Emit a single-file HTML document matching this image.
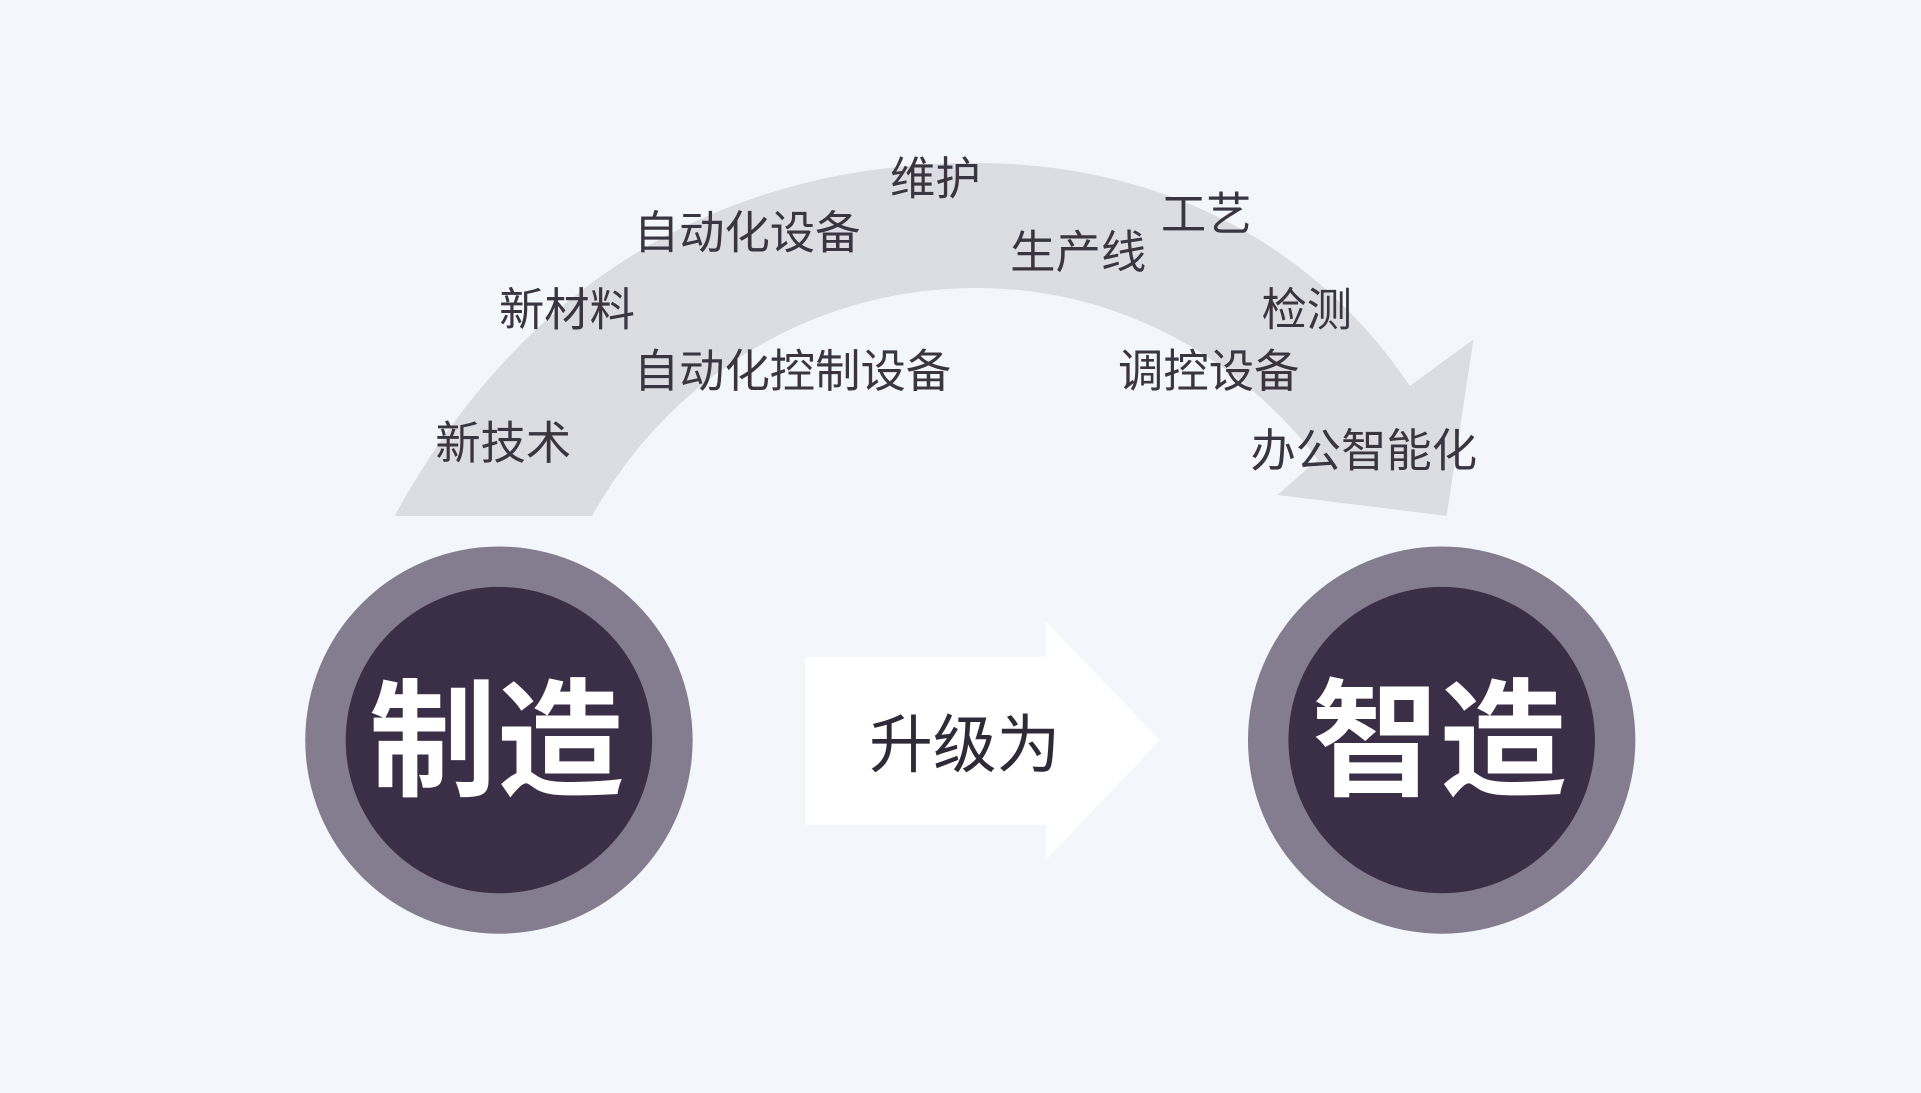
<!DOCTYPE html>
<html><head><meta charset="utf-8"><style>
html,body{margin:0;padding:0;background:#f3f6fb;}
svg{display:block}
text{font-family:"Liberation Sans","Noto Sans CJK SC",sans-serif;}
</style></head><body>
<svg width="1921" height="1093" viewBox="0 0 1567 892" preserveAspectRatio="none" xmlns="http://www.w3.org/2000/svg">
<rect width="1567" height="892" fill="#f3f6fb"/>
<path d="M322,421 C440,205 620,133 795,133 C960,133 1080,210 1150,315 L1202,277 L1180,421 L1042,404 L1075,375 C1010,290 910,235 797,235 C660,235 545,310 483,421 Z" fill="#dcdce3"/>
<polygon points="657,536 853,536 853,507 946,604 853,702 853,673 657,673" fill="#ffffff"/>
<text x="787" y="608" font-size="52" fill="#2f2a38" text-anchor="middle" dominant-baseline="central">升级为</text>
<circle cx="407" cy="604" r="158" fill="#847d8f"/>
<circle cx="407" cy="604" r="125" fill="#3b2e47"/>
<circle cx="1176" cy="604" r="158" fill="#847d8f"/>
<circle cx="1176" cy="604" r="125" fill="#3b2e47"/>
<text x="405" y="606" font-size="104" font-weight="bold" fill="#ffffff" text-anchor="middle" dominant-baseline="central">制造</text>
<text x="1174" y="606" font-size="104" font-weight="bold" fill="#ffffff" text-anchor="middle" dominant-baseline="central">智造</text>
<g font-size="37" fill="#3a3540" dominant-baseline="central">
<text x="726" y="146">维护</text>
<text x="517" y="190">自动化设备</text>
<text x="824" y="206">生产线</text>
<text x="947" y="175">工艺</text>
<text x="407" y="253">新材料</text>
<text x="1029" y="253">检测</text>
<text x="517" y="303">自动化控制设备</text>
<text x="912" y="303">调控设备</text>
<text x="355" y="362">新技术</text>
<text x="1020" y="368">办公智能化</text>
</g>
</svg>
</body></html>
